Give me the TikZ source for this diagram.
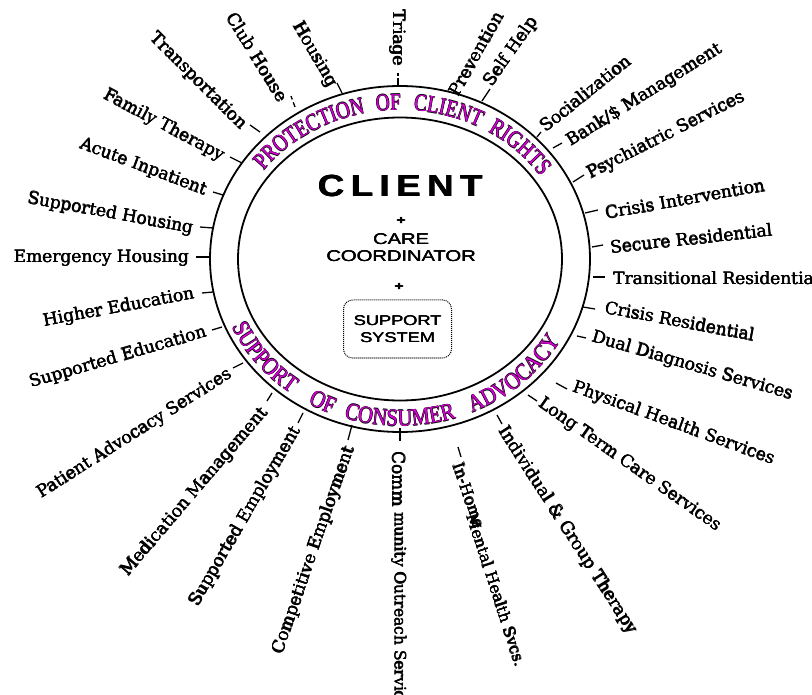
\documentclass[tikz,border=0pt]{standalone}
\usepackage{fontspec}
\setmainfont{DejaVu Serif}
\newfontfamily\ringfontT[FakeStretch=0.8]{Liberation Serif}
\newfontfamily\ringfontBt[FakeStretch=0.85]{Liberation Serif}
\newfontfamily\widesans[FakeStretch=1.3]{Liberation Sans}
\newfontfamily\clientfont[FakeStretch=1.2]{Liberation Sans}
\usetikzlibrary{calc,decorations.text}
\definecolor{ringmag}{RGB}{215,0,215}
\newcommand\hv[1]{\leavevmode\rlap{\kern0.45pt#1}\rlap{\raise0.4pt\hbox{#1}}#1}
\newcommand\hvc[1]{\leavevmode\rlap{\kern0.7pt#1}\rlap{\raise0.6pt\hbox{#1}}#1}
\newcommand\ringBT{\ringfontT\fontsize{24}{24}\selectfont\color{black}}
\newcommand\ringMT{\ringfontT\fontsize{24}{24}\selectfont\color{ringmag}}
\newcommand\ringBB{\ringfontBt\fontsize{24}{24}\selectfont\color{black}}
\newcommand\ringMB{\ringfontBt\fontsize{24}{24}\selectfont\color{ringmag}}
\newcommand\topword[2]{%
  \foreach \dx/\dy in {-0.5/0,0.5/0,0/0.5,0/-0.5}{%
  \path[decorate,decoration={text along path,text align=center,text={|\ringBT|#2}}]
    (C) ++(\dx,\dy) ++({#1+40}:169 and 149) arc[start angle={#1+40},end angle={#1-40},x radius=169,y radius=149];}
  \path[decorate,decoration={text along path,text align=center,text={|\ringMT|#2}}]
    (C) ++({#1+40}:169 and 149) arc[start angle={#1+40},end angle={#1-40},x radius=169,y radius=149];}
\newcommand\botword[2]{%
  \foreach \dx/\dy in {-0.5/0,0.5/0,0/0.5,0/-0.5}{%
  \path[decorate,decoration={text along path,text align=center,text={|\ringBB|#2}}]
    (C) ++(\dx,\dy) ++({#1-40}:184 and 167) arc[start angle={#1-40},end angle={#1+40},x radius=184,y radius=167];}
  \path[decorate,decoration={text along path,text align=center,text={|\ringMB|#2}}]
    (C) ++({#1-40}:184 and 167) arc[start angle={#1-40},end angle={#1+40},x radius=184,y radius=167];}
\begin{document}
\begin{tikzpicture}[x=1pt,y=1pt,
  lbl/.style={font=\fontsize{17}{20}\selectfont,inner sep=0pt},
  lblL/.style={lbl,anchor=east},
  lblR/.style={lbl,anchor=west},
  small/.style={font=\fontsize{15.5}{18}\selectfont},
  tickline/.style={line width=1.3pt},
  ring/.style={line width=1.8pt},
  plus/.style={inner sep=0pt,font=\widesans\bfseries\fontsize{12}{12}\selectfont},
  sans/.style={font=\widesans\fontsize{15.5}{17}\selectfont,align=center,inner sep=0pt}]
\useasboundingbox (0,0) rectangle (812,-695);
\coordinate (C) at (400,-259);
% rings
\draw[ring] (C) ellipse[x radius=190,y radius=173];
\draw[ring] (C) ellipse[x radius=162,y radius=141.5];
% ring texts
\topword{123.7}{PROTECTION}
\topword{94}{OF}
\topword{73}{CLIENT}
\topword{44.8}{RIGHTS}
\botword{217.9}{SUPPORT}
\botword{243.3}{OF}
\botword{270}{CONSUMER}
\botword{312.7}{ADVOCACY}
% centre
\node[inner sep=0pt] (client) at (400,-186)
  {\clientfont\bfseries\fontsize{30.5}{30}\selectfont\hvc{C\hspace{6.5pt}L\hspace{6.5pt}I\hspace{6.5pt}E\hspace{6.5pt}N\hspace{6.5pt}T}};
\node[plus] (plusa) at (401,-221) {\hv{+}};
\node[sans] (care) at (401,-247.5) {\hv{CARE}\\\hv{COORDINATOR}};
\node[plus] (plusb) at (399,-287) {\hv{+}};
\node[draw,densely dotted,line width=1pt,rounded corners=9pt,minimum width=108pt,minimum height=58pt,
  sans,font=\widesans\fontsize{14}{17}\selectfont] (support) at (397.5,-329) {\hv{SUPPORT}\\\hv{SYSTEM}};
% left labels
\node[lblL,rotate=-90]  (triage)     at (398,-66)  {\hv{Triage}};
\node[lblL,rotate=-60]  (housing)    at (333,-86)  {\hv{Housing}};
\node[lblL,rotate=-58.6](clubhouse)  at (284,-100) {\hv{Club House}};
\node[lblL,rotate=-45]  (transport)  at (244,-127) {\hv{Transportation}};
\node[lblL,rotate=-28]  (family)     at (223,-157) {\hv{Family Therapy}};
\node[lblL,rotate=-20.6](acute)      at (206,-191) {\hv{Acute Inpatient}};
\node[lblL,rotate=-10.4](suphousing) at (193,-229) {\hv{Supported Housing}};
\node[lblL,rotate=0]    (emerg)      at (189,-258) {\hv{Emergency Housing}};
\node[lblL,rotate=10.5] (higher)     at (194,-294) {\hv{Higher Education}};
\node[lblL,rotate=16.2] (suped)      at (206,-332) {\hv{Supported Education}};
\node[lblL,rotate=32.5] (patient)    at (230,-373) {\hv{Patient Advocacy Services}};
\node[lblL,rotate=49.4] (medication) at (265,-410) {\hv{Medication Management}};
\node[lblL,rotate=59.8] (supemp)     at (297,-428) {\hv{Supported Employment}};
\node[lblL,rotate=70.8] (compemp)    at (350,-447) {\hv{Competitive Employment}};
% right labels
\node[lblR,rotate=-90]  (comm)       at (399,-451) {\hv{Comm}};
\node[lblR,small,rotate=-90] (munity) at (399,-512) {\hv{munity Outreach Services}};
\node[lblR,small,rotate=-71]  (inhome) at (458,-463) {\hv{In-Home}};
\node[lblR,small,rotate=-72]  (mental) at (472,-514) {\hv{Mental Health Svcs.}};
\node[lblR,rotate=-57.3](indiv)      at (502,-428) {\hv{Individual \& Group Therapy}};
\node[lblR,rotate=-35.1](longterm)   at (540,-402) {\hv{Long Term Care Services}};
\node[lblR,rotate=-20]  (physical)   at (573,-387) {\hv{Physical Health Services}};
\node[lblR,rotate=-16.2](dual)       at (592,-337) {\hv{Dual Diagnosis Services}};
\node[lblR,rotate=-10.5](crisisres)  at (605,-307) {\hv{Crisis Residential}};
\node[lblR,rotate=0]    (transit)    at (613,-278) {\hv{Transitional Residential}};
\node[lblR,rotate=6.1]  (secure)     at (610,-247) {\hv{Secure Residential}};
\node[lblR,rotate=10]   (crisisint)  at (605,-213) {\hv{Crisis Intervention}};
\node[lblR,rotate=26.9] (psych)      at (588,-175) {\hv{Psychiatric Services}};
\node[lblR,rotate=32]   (bank)       at (568,-143) {\hv{Bank/\$ Management}};
\node[lblR,rotate=38.7] (social)     at (542,-128) {\hv{Socialization}};
\node[lblR,rotate=55]   (selfhelp)   at (488,-85)  {\hv{Self Help}};
\node[lblR,rotate=60.8] (prevention) at (453,-95)  {\hv{Prevention}};
% ticks
\foreach \n/\xa/\ya/\xb/\yb in {
  housing/342/93/337/83, transport/260/132/250/125, family/242/163/230/157,
  acute/223/195/213/192, suphousing/213/228/200/227, emerg/210/257/196/257,
  higher/213/292/202/293, suped/222/327/212/330, patient/243/363/233/368,
  medication/272/393/267/401, supemp/303/413/298/423, compemp/352/425/348/440,
  comm/400/428/400/441, inhome/458/447/461/457, indiv/497/415/502/424,
  longterm/528/395/537/401, physical/556/383/567/389, dual/577/336/586/338,
  crisisres/583/307/595/309, transit/593/277/605/277, secure/592/247/603/245,
  crisisint/585/213/598/210, psych/573/182/584/175, bank/553/148/562/143,
  social/537/137/541/132, selfhelp/482/101/490/89}{
  \coordinate (\n-i) at (\xa,-\ya);
  \coordinate (\n-o) at (\xb,-\yb);
  \draw[tickline] (\n-i) -- (\n-o);
}
\coordinate (triage-i) at (398,-85);
\coordinate (triage-o) at (398,-73);
\draw[tickline,dash pattern=on 7pt off 2pt on 3pt off 9pt] (triage-i) -- (triage-o);
\coordinate (clubhouse-i) at (295,-107);
\coordinate (clubhouse-o) at (291,-96);
\draw[tickline,dash pattern=on 5pt off 3pt on 4pt off 9pt] (clubhouse-i) -- (clubhouse-o);
\end{tikzpicture}
\end{document}
